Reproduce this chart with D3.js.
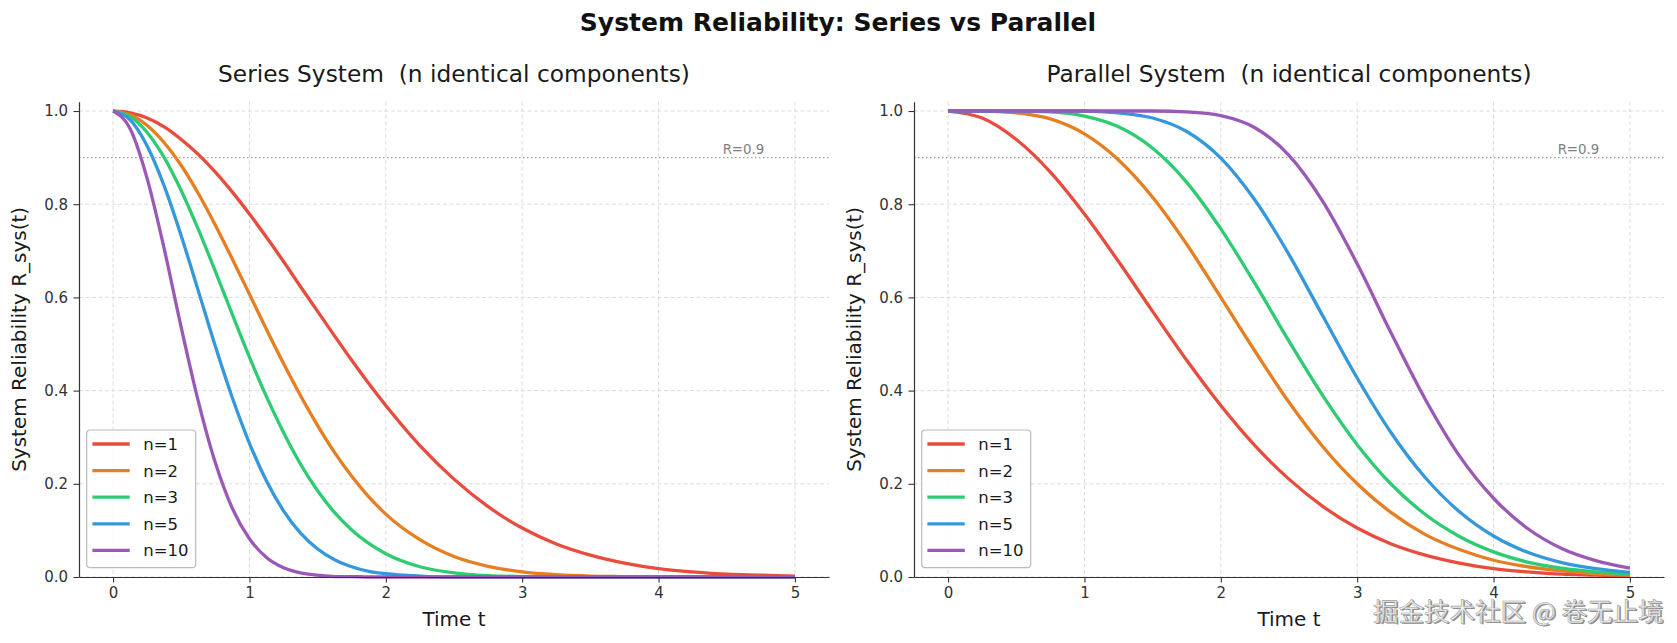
<!DOCTYPE html>
<html>
<head>
<meta charset="utf-8">
<script src="https://cdn.jsdelivr.net/npm/d3@7/dist/d3.min.js"></script>
<style>
  body { margin: 0; background: #fff; }
  svg { display: block; font-family: "DejaVu Sans", sans-serif; }
</style>
</head>
<body>
<svg id="chart" width="1677" height="643"></svg>
<script>
var tSeries = [0, 0.125, 0.25, 0.375, 0.5, 0.625, 0.75, 0.875, 1, 1.125, 1.25, 1.375, 1.5, 1.625, 1.75, 1.875, 2,
               2.25, 2.5, 2.75, 3, 3.25, 3.5, 3.75, 4, 4.25, 4.5, 4.75, 5];
var tParallel = [0, 0.25, 0.5, 0.75, 1, 1.25, 1.5, 1.75, 2, 2.25, 2.5, 2.75, 3, 3.25, 3.5, 3.75, 4, 4.25, 4.5, 4.75, 5];

var labels = ["n=1", "n=2", "n=3", "n=5", "n=10"];
var colors = ["#e74c3c", "#e67e22", "#2ecc71", "#3498db", "#9b59b6"];

// series system
var seriesN1  = [1.000, 0.996, 0.985, 0.966, 0.939, 0.907, 0.869, 0.826, 0.779, 0.729, 0.677, 0.623, 0.570, 0.517, 0.465, 0.415, 0.368,
                 0.282, 0.210, 0.151, 0.105, 0.071, 0.047, 0.030, 0.018, 0.011, 0.006, 0.004, 0.002];
var seriesN2  = [1.000, 0.992, 0.969, 0.932, 0.883, 0.823, 0.755, 0.682, 0.607, 0.531, 0.458, 0.389, 0.325, 0.267, 0.216, 0.172, 0.135,
                 0.080, 0.044, 0.023, 0.011, 0.005, 0.002, 0.001, 0.000, 0.000, 0.000, 0.000, 0.000];
var seriesN3  = [1.000, 0.988, 0.954, 0.900, 0.829, 0.746, 0.656, 0.563, 0.472, 0.387, 0.310, 0.242, 0.185, 0.138, 0.101, 0.072, 0.050,
                 0.022, 0.009, 0.003, 0.001, 0.000, 0.000, 0.000, 0.000, 0.000, 0.000, 0.000, 0.000];
var seriesN5  = [1.000, 0.981, 0.925, 0.839, 0.732, 0.614, 0.495, 0.384, 0.287, 0.206, 0.142, 0.094, 0.060, 0.037, 0.022, 0.012, 0.007,
                 0.002, 0.000, 0.000, 0.000, 0.000, 0.000, 0.000, 0.000, 0.000, 0.000, 0.000, 0.000];
var seriesN10 = [1.000, 0.962, 0.855, 0.704, 0.535, 0.377, 0.245, 0.147, 0.082, 0.042, 0.020, 0.009, 0.004, 0.001, 0.001, 0.000, 0.000,
                 0.000, 0.000, 0.000, 0.000, 0.000, 0.000, 0.000, 0.000, 0.000, 0.000, 0.000, 0.000];

// parallel system
var parallelN1  = [1.000, 0.985, 0.939, 0.869, 0.779, 0.677, 0.570, 0.465, 0.368, 0.282, 0.210, 0.151, 0.105, 0.071, 0.047, 0.030, 0.018, 0.011, 0.006, 0.004, 0.002];
var parallelN2  = [1.000, 1.000, 0.996, 0.983, 0.951, 0.895, 0.815, 0.714, 0.600, 0.485, 0.375, 0.279, 0.200, 0.138, 0.091, 0.059, 0.036, 0.022, 0.013, 0.007, 0.004];
var parallelN3  = [1.000, 1.000, 1.000, 0.998, 0.989, 0.966, 0.920, 0.847, 0.747, 0.630, 0.506, 0.388, 0.284, 0.199, 0.134, 0.087, 0.054, 0.032, 0.019, 0.011, 0.006];
var parallelN5  = [1.000, 1.000, 1.000, 1.000, 1.000, 0.996, 0.985, 0.956, 0.899, 0.809, 0.692, 0.559, 0.427, 0.309, 0.213, 0.140, 0.088, 0.053, 0.031, 0.018, 0.010];
var parallelN10 = [1.000, 1.000, 1.000, 1.000, 1.000, 1.000, 1.000, 0.998, 0.990, 0.964, 0.905, 0.805, 0.672, 0.523, 0.381, 0.260, 0.169, 0.104, 0.061, 0.035, 0.019];

var xTicks = [0, 1, 2, 3, 4, 5];
var yTicks = [0, 0.2, 0.4, 0.6, 0.8, 1.0];
var refLevel = 0.9;

var panels = [
  { title: "Series System  (n identical components)", left: 79, right: 829, t: tSeries,
    data: [seriesN1, seriesN2, seriesN3, seriesN5, seriesN10], ylabX: 26 },
  { title: "Parallel System  (n identical components)", left: 914, right: 1664, t: tParallel,
    data: [parallelN1, parallelN2, parallelN3, parallelN5, parallelN10], ylabX: 861 }
];

var svg = d3.select("#chart");
var plotTop = 101.7, plotBottom = 577;

svg.append("text")
  .attr("x", 838).attr("y", 31)
  .attr("text-anchor", "middle")
  .style("font-size", "25px").style("font-weight", "bold").style("fill", "#111")
  .text("System Reliability: Series vs Parallel");

panels.forEach(function (p) {
  var x = d3.scaleLinear().domain([-0.25, 5.25]).range([p.left, p.right]);
  var y = d3.scaleLinear().domain([0, 1.02]).range([plotBottom, plotTop]);
  var g = svg.append("g");

  // grid
  g.selectAll(".gx").data(xTicks).enter().append("line")
    .attr("x1", d => x(d)).attr("x2", d => x(d))
    .attr("y1", plotTop).attr("y2", plotBottom)
    .attr("stroke", "#d8d8d8").attr("stroke-width", 0.9).attr("stroke-dasharray", "4,2.5");
  g.selectAll(".gy").data(yTicks).enter().append("line")
    .attr("x1", p.left).attr("x2", p.right)
    .attr("y1", d => y(d)).attr("y2", d => y(d))
    .attr("stroke", "#d8d8d8").attr("stroke-width", 0.9).attr("stroke-dasharray", "4,2.5");

  // reference line R=0.9
  g.append("line")
    .attr("x1", p.left).attr("x2", p.right)
    .attr("y1", y(refLevel)).attr("y2", y(refLevel))
    .attr("stroke", "#a0a0a0").attr("stroke-width", 1.3).attr("stroke-dasharray", "1.5,2.5");
  g.append("text")
    .attr("x", x(4.47)).attr("y", y(refLevel) - 4)
    .style("font-size", "13.3px").style("fill", "#808080")
    .text("R=0.9");

  // curves
  var line = d3.line()
    .x((d, i) => x(p.t[i]))
    .y(d => y(d))
    .curve(d3.curveMonotoneX);
  p.data.forEach(function (arr, k) {
    g.append("path")
      .attr("d", line(arr))
      .attr("fill", "none")
      .attr("stroke", colors[k])
      .attr("stroke-width", 3.3)
      .attr("stroke-linejoin", "round");
  });

  // axes
  var xAxis = d3.axisBottom(x).tickValues(xTicks).tickSize(5.5).tickSizeOuter(0).tickPadding(5).tickFormat(d3.format("d"));
  var yAxis = d3.axisLeft(y).tickValues(yTicks).tickSize(5.5).tickSizeOuter(0).tickPadding(5.5).tickFormat(d3.format(".1f"));
  var gx = g.append("g").attr("transform", "translate(0," + plotBottom + ")").call(xAxis);
  var gy = g.append("g").attr("transform", "translate(" + p.left + ",0)").call(yAxis);
  [gx, gy].forEach(function (a) {
    a.select(".domain").attr("stroke", "#333").attr("stroke-width", 1.2);
    a.selectAll(".tick line").attr("stroke", "#333").attr("stroke-width", 1.1);
    a.selectAll(".tick text").style("font-size", "15px").style("fill", "#333")
      .style("font-family", "DejaVu Sans");
  });

  // titles
  g.append("text")
    .attr("x", (p.left + p.right) / 2).attr("y", 81.5)
    .attr("text-anchor", "middle")
    .style("white-space", "pre")
    .style("font-size", "23.3px").style("fill", "#1a1a1a")
    .text(p.title);
  g.append("text")
    .attr("x", (p.left + p.right) / 2).attr("y", 626)
    .attr("text-anchor", "middle")
    .style("font-size", "20px").style("fill", "#1a1a1a")
    .text("Time t");
  g.append("text")
    .attr("transform", "translate(" + p.ylabX + "," + (plotTop + plotBottom) / 2 + ") rotate(-90)")
    .attr("text-anchor", "middle")
    .style("font-size", "20px").style("fill", "#1a1a1a")
    .text("System Reliability R_sys(t)");

  // legend
  var lx = p.left + 7.7, ly = 430;
  var leg = g.append("g").attr("transform", "translate(" + lx + "," + ly + ")");
  leg.append("rect")
    .attr("width", 109).attr("height", 137.7)
    .attr("rx", 3.5)
    .attr("fill", "#fff").attr("fill-opacity", 0.85)
    .attr("stroke", "#bbb").attr("stroke-width", 1.2);
  labels.forEach(function (lab, k) {
    var cy = 14 + k * 26.6;
    leg.append("line")
      .attr("x1", 5.7).attr("x2", 43).attr("y1", cy).attr("y2", cy)
      .attr("stroke", colors[k]).attr("stroke-width", 3.3);
    leg.append("text")
      .attr("x", 56.5).attr("y", cy + 6)
      .style("font-size", "16.5px").style("fill", "#1a1a1a")
      .text(lab);
  });
});

// watermark
var wm = "掘金技术社区 @ 卷无止境";
svg.append("text")
  .attr("x", 1374.5).attr("y", 622)
  .style("font-family", "'Noto Sans CJK SC', sans-serif")
  .style("font-size", "25.5px").style("fill", "#8a8a8a")
  .text(wm);
svg.append("text")
  .attr("x", 1373).attr("y", 620.5)
  .style("font-family", "'Noto Sans CJK SC', sans-serif")
  .style("font-size", "25.5px").style("fill", "#f2f2f2")
  .attr("stroke", "#a0a0a0").attr("stroke-width", 0.6)
  .text(wm);
</script>
</body>
</html>
